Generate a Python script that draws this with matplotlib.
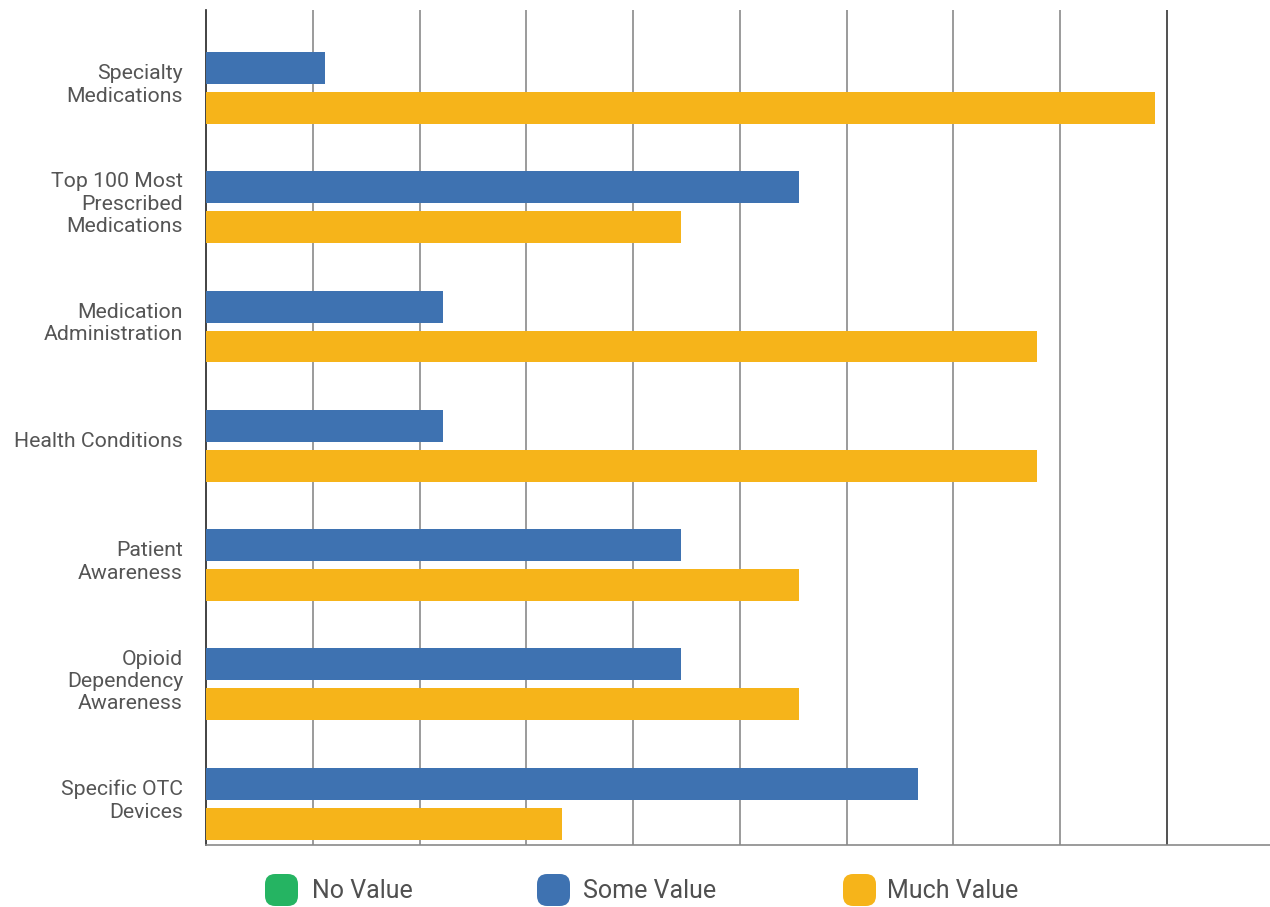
import matplotlib
matplotlib.use("Agg")
import matplotlib.pyplot as plt
from matplotlib.patches import FancyBboxPatch
import numpy as np

categories = ["Specialty\nMedications", "Top 100 Most\nPrescribed\nMedications",
              "Medication\nAdministration", "Health Conditions", "Patient\nAwareness",
              "Opioid\nDependency\nAwareness", "Specific OTC\nDevices"]
no_value = [0, 0, 0, 0, 0, 0, 0]
some_value = [1, 5, 2, 2, 4, 4, 6]
much_value = [8, 4, 7, 7, 5, 5, 3]
series_names = ["No Value", "Some Value", "Much Value"]
colors = ["#25b462", "#3e72b1", "#f6b41a"]

W, H = 1270, 907
fig = plt.figure(figsize=(W / 100, H / 100), dpi=100)
ax = fig.add_axes([206 / W, 1 - 845 / H, (1270 - 206) / W, (845 - 10) / H])

n = len(categories)
base = np.arange(n) + 0.486
bh = 0.268
off = 0.335
for vals, c, o in zip([no_value, some_value, much_value], colors, [-off, 0, off]):
    ax.barh(base + o, vals, height=bh, color=c, zorder=3)

ax.set_ylim(n, 0)
ax.set_xlim(0, 8.968)
ax.set_yticks(np.arange(n) + 0.598)
ax.set_yticklabels(categories, fontfamily="Roboto", fontsize=15.3, color="#555555",
                   linespacing=1.22)
ax.tick_params(axis="y", length=0, pad=16.5)
ax.set_xticks([])
for k in range(1, 10):
    ax.axvline(0.9 * k, color="#333333" if k == 9 else "#8a8a8a", lw=1.2, zorder=1)

for s in ["top", "right"]:
    ax.spines[s].set_visible(False)
ax.spines["left"].set_color("#222222")
ax.spines["left"].set_linewidth(1.2)
ax.spines["bottom"].set_color("#8a8a8a")
ax.spines["bottom"].set_linewidth(1.2)

# legend
marker_x = [265, 537, 843]
text_x = [312, 583, 887]
for name, c, mx, tx in zip(series_names, colors, marker_x, text_x):
    p = FancyBboxPatch((mx / W, 1 - 906 / H), 33 / W, 32 / H,
                       boxstyle="round,pad=0,rounding_size=0.008",
                       transform=fig.transFigure, facecolor=c, edgecolor="none",
                       mutation_aspect=W / H)
    fig.add_artist(p)
    fig.text(tx / W, 1 - 891 / H, name, fontfamily="Roboto", fontsize=18,
             color="#505050", va="center", ha="left")

fig.savefig("out.png", dpi=100)
